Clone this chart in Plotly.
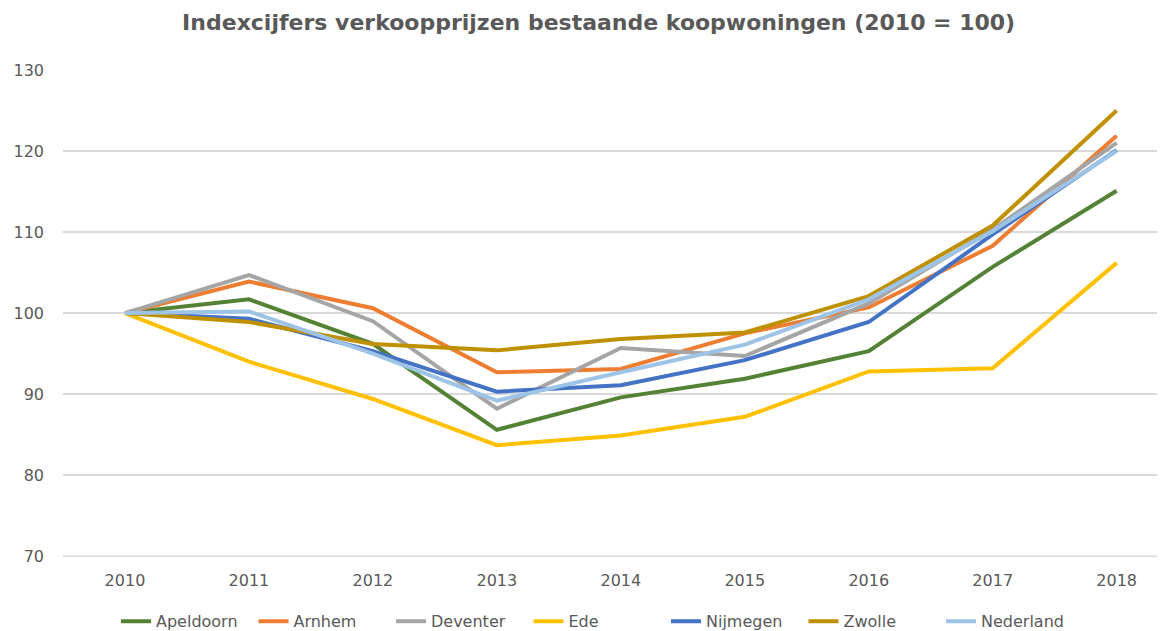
import plotly.graph_objects as go

years = ["2010", "2011", "2012", "2013", "2014", "2015", "2016", "2017", "2018"]
apeldoorn = [100, 101.7, 96.2, 85.6, 89.6, 91.9, 95.3, 105.7, 115.1]
arnhem = [100, 103.9, 100.6, 92.7, 93.1, 97.5, 100.7, 108.3, 121.9]
deventer = [100, 104.7, 99.0, 88.2, 95.7, 94.7, 101.2, 110.3, 121.0]
ede = [100, 94.0, 89.4, 83.7, 84.9, 87.2, 92.8, 93.2, 106.2]
nijmegen = [100, 99.3, 95.3, 90.3, 91.1, 94.2, 98.9, 109.7, 120.1]
zwolle = [100, 98.9, 96.2, 95.4, 96.8, 97.6, 102.1, 110.8, 125.0]
nederland = [100, 100.2, 95.0, 89.2, 92.7, 96.1, 101.7, 110.1, 120.0]

y_min, y_max = 70, 130

series = [
    ("Apeldoorn", apeldoorn, "#548235"),
    ("Arnhem", arnhem, "#ED7D31"),
    ("Deventer", deventer, "#A5A5A5"),
    ("Ede", ede, "#FFC000"),
    ("Nijmegen", nijmegen, "#4472C4"),
    ("Zwolle", zwolle, "#BF9000"),
    ("Nederland", nederland, "#9DC3E6"),
]

fig = go.Figure()
for name, vals, col in series:
    fig.add_trace(go.Scatter(x=years, y=vals, name=name, mode="lines",
                             line=dict(color=col, width=4)))

# bottom gridline (at the range edge plotly does not draw it)
fig.add_shape(type="line", xref="paper", x0=0, x1=1, yref="y", y0=y_min, y1=y_min,
              line=dict(color="#D9D9D9", width=1.5), layer="below")

fig.update_layout(
    width=1165, height=631,
    paper_bgcolor="white", plot_bgcolor="white",
    margin=dict(l=55, r=8, t=62, b=82, autoexpand=False),
    title=dict(text="<b>Indexcijfers verkoopprijzen bestaande koopwoningen (2010 = 100)</b>",
               x=0.507, xanchor="center", xref="container", y=0.978, yanchor="middle",
               font=dict(family="DejaVu Sans, Verdana", size=22, color="#595959")),
    font=dict(family="DejaVu Sans, Verdana", size=16, color="#595959"),
    xaxis=dict(type="category", range=[-0.5, 8.39], showgrid=False, zeroline=False,
               showline=False, ticks="", ticklabelstandoff=12,
               tickfont=dict(size=16, color="#595959")),
    yaxis=dict(range=[y_min - 0.1, y_max], tickvals=[70, 80, 90, 100, 110, 120, 130],
               showgrid=True, gridcolor="#D9D9D9", gridwidth=1.5,
               zeroline=False, showline=False, ticks="", ticklabelstandoff=18,
               tickfont=dict(size=16, color="#595959")),
    legend=dict(orientation="h", x=0.506, xanchor="center", xref="container",
                y=0.028, yanchor="middle", yref="container",
                entrywidth=92.5, entrywidthmode="pixels",
                font=dict(family="DejaVu Sans, Verdana", size=16, color="#595959"),
                tracegroupgap=0),
    showlegend=True,
)

fig.write_html("out.html")
